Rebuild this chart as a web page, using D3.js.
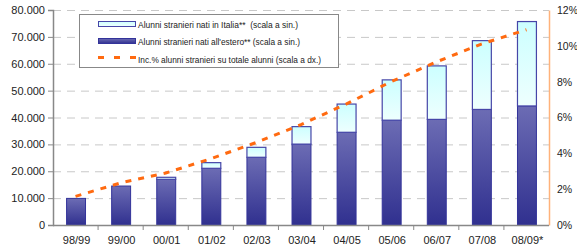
<!DOCTYPE html>
<html>
<head>
<meta charset="utf-8">
<script src="https://cdn.jsdelivr.net/npm/d3@7"></script>
<style>
  body { margin: 0; background: #fff; }
  svg text { font-family: "Liberation Sans", Arial, sans-serif; fill: #222; }
</style>
</head>
<body>
<svg id="chart" width="577" height="250"></svg>
<script>
'use strict';

// data
const years = ["98/99", "99/00", "00/01", "01/02", "02/03", "03/04", "04/05", "05/06", "06/07", "07/08", "08/09*"];
const bornAbroad = [9900, 14500, 17000, 21100, 25200, 30100, 34500, 39000, 39300, 43000, 44300];
const bornItaly  = [0, 0, 750, 2100, 3700, 6500, 10500, 15000, 19900, 25600, 31400];
const sharePct   = [1.6, 2.35, 2.9, 3.7, 4.6, 5.6, 6.75, 8.0, 9.1, 10.1, 10.9];
const leftTicks  = [0, 10000, 20000, 30000, 40000, 50000, 60000, 70000, 80000];
const rightTicks = [0, 2, 4, 6, 8, 10, 12];
const legendLabels = [
    "Alunni stranieri nati in Italia**  (scala a sin.)",
    "Alunni stranieri nati all'estero** (scala a sin.)",
    "Inc.% alunni stranieri su totale alunni (scala a dx.)"
];

{ // start scope

const svg = d3.select("#chart");
const plotLeft = 53, plotRight = 549, plotTop = 10, plotBottom = 225;

const x = d3.scaleBand().domain(years).range([plotLeft, plotRight]).paddingInner(0.58).paddingOuter(0.29);
const xb = d3.scaleBand().domain(years).range([plotLeft, plotRight]);
const yL = d3.scaleLinear().domain([0, 80000]).range([plotBottom, plotTop]);
const yR = d3.scaleLinear().domain([0, 12]).range([plotBottom, plotTop]);

// gradients
const defs = svg.append("defs");
const gDark = defs.append("linearGradient").attr("id", "gDark").attr("x1", 0).attr("y1", 0).attr("x2", 0).attr("y2", 1);
gDark.append("stop").attr("offset", "0%").attr("stop-color", "#6c6cb4");
gDark.append("stop").attr("offset", "100%").attr("stop-color", "#30308f");
const gLight = defs.append("linearGradient").attr("id", "gLight").attr("x1", 0).attr("y1", 0).attr("x2", 0).attr("y2", 1);
gLight.append("stop").attr("offset", "0%").attr("stop-color", "#ccffff");
gLight.append("stop").attr("offset", "100%").attr("stop-color", "#eefffe");

// gridlines
svg.append("g").selectAll("line")
    .data(leftTicks.filter(d => d > 0))
    .enter().append("line")
    .attr("x1", plotLeft).attr("x2", plotRight)
    .attr("y1", d => yL(d) + 0.5).attr("y2", d => yL(d) + 0.5)
    .attr("stroke", "#c8c8c8")
    .attr("stroke-dasharray", "8,6");

// bars: born abroad (bottom)
svg.append("g").selectAll("rect")
    .data(years)
    .enter().append("rect")
    .attr("x", d => x(d) + 0.5)
    .attr("width", x.bandwidth())
    .attr("y", (d, i) => yL(bornAbroad[i]))
    .attr("height", (d, i) => plotBottom - yL(bornAbroad[i]))
    .attr("fill", "url(#gDark)")
    .attr("stroke", "#33339a")
    .attr("stroke-width", 1);

// bars: born in Italy (stacked on top)
svg.append("g").selectAll("rect")
    .data(years.filter((d, i) => bornItaly[i] > 0))
    .enter().append("rect")
    .attr("x", d => x(d) + 0.5)
    .attr("width", x.bandwidth())
    .attr("y", d => { const i = years.indexOf(d); return yL(bornAbroad[i] + bornItaly[i]); })
    .attr("height", d => { const i = years.indexOf(d); return yL(bornAbroad[i]) - yL(bornAbroad[i] + bornItaly[i]); })
    .attr("fill", "url(#gLight)")
    .attr("stroke", "#4646a8")
    .attr("stroke-width", 1.2);

// percentage line
const line = d3.line()
    .x((d, i) => xb(years[i]) + xb.bandwidth() / 2)
    .y(d => yR(d));
svg.append("path")
    .datum(sharePct)
    .attr("d", line)
    .attr("fill", "none")
    .attr("stroke", "#ff6a10")
    .attr("stroke-width", 3)
    .attr("stroke-dasharray", "6,7");

// left axis
const axL = svg.append("g")
    .attr("transform", `translate(${plotLeft},0)`)
    .call(d3.axisLeft(yL).tickValues(leftTicks).tickSize(5).tickPadding(3)
        .tickFormat(d => d === 0 ? "0" : d3.format(",")(d).replace(/,/g, ".")));
axL.select(".domain").attr("stroke", "#888").attr("stroke-width", 1.5);
axL.selectAll(".tick line").attr("stroke", "#888");
axL.selectAll("text").attr("font-size", 11).style("fill", "#222");

// right axis
const axR = svg.append("g")
    .attr("transform", `translate(${plotRight},0)`)
    .call(d3.axisRight(yR).tickValues(rightTicks).tickSize(0).tickPadding(8)
        .tickFormat(d => d + "%"));
axR.select(".domain").attr("stroke", "#ffb27a").attr("stroke-width", 1.5);
axR.selectAll("text").attr("font-size", 10.5).style("fill", "#222");

// bottom axis
const axB = svg.append("g")
    .attr("transform", `translate(0,${plotBottom})`);
axB.append("line")
    .attr("x1", plotLeft).attr("x2", plotRight)
    .attr("y1", 0.5).attr("y2", 0.5)
    .attr("stroke", "#888").attr("stroke-width", 1.5);
axB.selectAll("line.tk")
    .data(years.slice(1))
    .enter().append("line")
    .attr("class", "tk")
    .attr("x1", d => xb(d)).attr("x2", d => xb(d))
    .attr("y1", 0).attr("y2", 5)
    .attr("stroke", "#888");
axB.selectAll("text")
    .data(years)
    .enter().append("text")
    .attr("x", d => xb(d) + xb.bandwidth() / 2 + 1)
    .attr("y", 19)
    .attr("text-anchor", "middle")
    .attr("font-size", 11)
    .text(d => d);

// legend
const lg = svg.append("g");
lg.append("rect")
    .attr("x", 79.5).attr("y", 14.5)
    .attr("width", 259).attr("height", 53)
    .attr("fill", "#fff").attr("stroke", "#888");
lg.append("rect")
    .attr("x", 98.5).attr("y", 21.5).attr("width", 37).attr("height", 5)
    .attr("fill", "url(#gLight)").attr("stroke", "#4646a8");
lg.append("rect")
    .attr("x", 98.5).attr("y", 38.5).attr("width", 37).attr("height", 5)
    .attr("fill", "url(#gDark)").attr("stroke", "#33339a");
lg.append("line")
    .attr("x1", 98).attr("x2", 136)
    .attr("y1", 57.5).attr("y2", 57.5)
    .attr("stroke", "#ff6a10").attr("stroke-width", 3)
    .attr("stroke-dasharray", "6,10");
const legendWidths = [160, 162, 183];
lg.selectAll("text")
    .data(legendLabels)
    .enter().append("text")
    .attr("x", 138)
    .attr("y", (d, i) => 27.5 + i * 17.5)
    .attr("font-size", 9.5)
    .attr("textLength", (d, i) => legendWidths[i])
    .attr("lengthAdjust", "spacingAndGlyphs")
    .style("white-space", "pre")
    .text(d => d);

} // end scope
</script>
</body>
</html>
